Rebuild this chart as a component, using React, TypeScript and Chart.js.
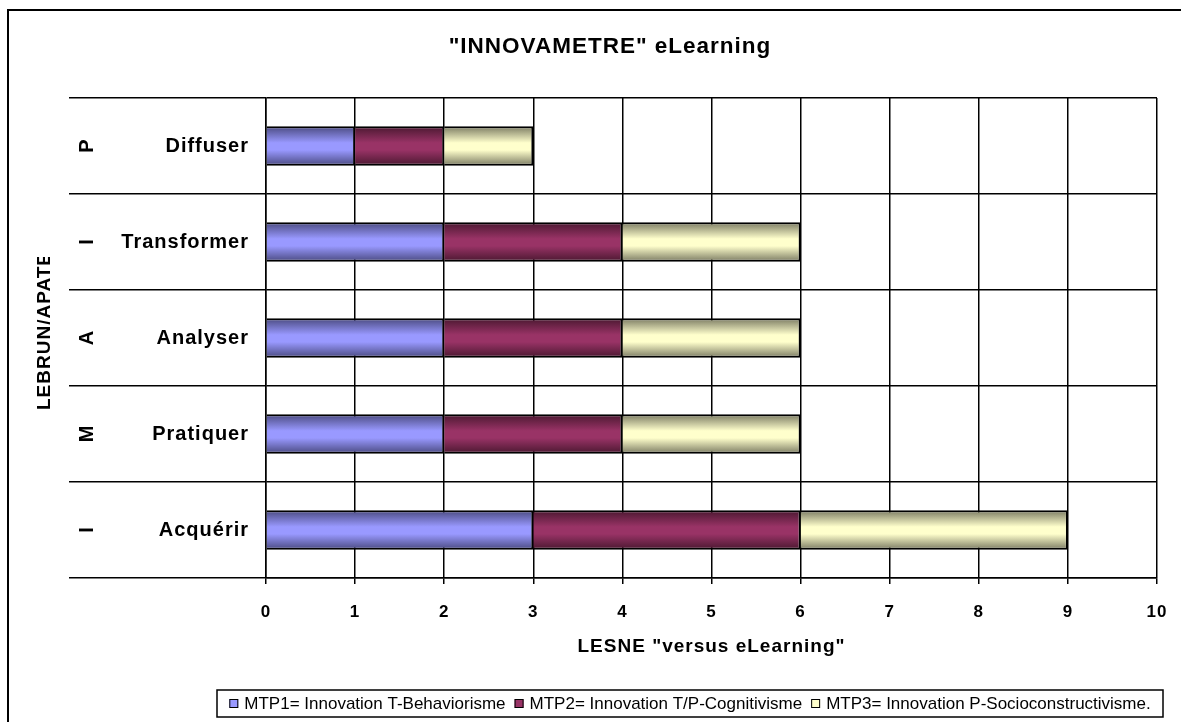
import React, { useEffect, useRef } from 'react';
import { Chart, registerables } from 'chart.js';

Chart.register(...registerables);

// ---- data ----
const categories = ['Diffuser', 'Transformer', 'Analyser', 'Pratiquer', 'Acquérir'];
const groupLetters = ['P', 'I', 'A', 'M', 'I'];
const mtp1Values = [1, 2, 2, 2, 3];
const mtp2Values = [1, 2, 2, 2, 3];
const mtp3Values = [1, 2, 2, 2, 3];
const seriesNames = [
  'MTP1= Innovation T-Behaviorisme',
  'MTP2= Innovation T/P-Cognitivisme',
  'MTP3= Innovation P-Socioconstructivisme.',
];
const xMin = 0;
const xMax = 10;
const xStep = 1;
const chartTitle = '"INNOVAMETRE" eLearning';
const xAxisTitle = 'LESNE "versus eLearning"';
const yAxisTitle = 'LEBRUN/APATE';

// ---- styles ----
const FONT = '"Liberation Sans", Arial, sans-serif';
const BAR_FRACTION = 0.41;
const seriesFlat = ['#9999FF', '#993366', '#FFFFCC'];
const seriesStops: [number, string][][] = [
  [[0, '#4a4a80'], [0.42, '#9999ff'], [0.6, '#9999ff'], [1, '#4a4a80']],
  [[0, '#4a1830'], [0.42, '#993366'], [0.6, '#993366'], [1, '#4a1830']],
  [[0, '#7a7a62'], [0.42, '#ffffcc'], [0.6, '#ffffcc'], [1, '#7a7a62']],
];

function makeBg(i: number) {
  return (c: any) => {
    const chart = c.chart;
    const ys = chart.scales && chart.scales.y;
    if (c.type !== 'data' || !ys || !chart.chartArea) return seriesFlat[i];
    const center = ys.getPixelForValue(c.dataIndex);
    const band = (chart.chartArea.bottom - chart.chartArea.top) / categories.length;
    const half = (band * BAR_FRACTION) / 2;
    const g = chart.ctx.createLinearGradient(0, center - half, 0, center + half);
    seriesStops[i].forEach(([o, col]) => g.addColorStop(o, col));
    return g;
  };
}

const decorPlugin = {
  id: 'decor',
  beforeDraw(chart: any) {
    const ctx = chart.ctx;
    ctx.save();
    ctx.fillStyle = '#ffffff';
    ctx.fillRect(0, 0, chart.width, chart.height);
    ctx.strokeStyle = '#000';
    ctx.lineWidth = 2;
    ctx.strokeRect(8, 10, chart.width + 60, chart.height + 60);
    ctx.restore();
    ctx.letterSpacing = '1px';
  },
  afterDraw(chart: any) {
    const ctx = chart.ctx;
    const ys = chart.scales.y;
    // title
    ctx.save();
    ctx.letterSpacing = '1px';
    ctx.fillStyle = '#000';
    ctx.font = `bold 22.5px ${FONT}`;
    ctx.textAlign = 'center';
    ctx.textBaseline = 'middle';
    ctx.fillText(chartTitle, 610, 47);
    ctx.restore();

    // group letters (rotated)
    ctx.save();
    ctx.letterSpacing = '0px';
    ctx.fillStyle = '#000';
    ctx.font = `bold 20px ${FONT}`;
    ctx.textAlign = 'center';
    ctx.textBaseline = 'middle';
    groupLetters.forEach((l, i) => {
      const y = ys.getPixelForValue(i);
      ctx.save();
      ctx.translate(87, y);
      ctx.rotate(-Math.PI / 2);
      ctx.fillText(l, 0, 0);
      ctx.restore();
    });
    ctx.restore();

    // y axis title (clipped like the original)
    ctx.save();
    ctx.beginPath();
    ctx.rect(0, 257, 80, 300);
    ctx.clip();
    ctx.letterSpacing = '1px';
    ctx.fillStyle = '#000';
    ctx.font = `bold 19px ${FONT}`;
    ctx.textAlign = 'left';
    ctx.textBaseline = 'middle';
    ctx.translate(45, 410);
    ctx.rotate(-Math.PI / 2);
    ctx.fillText(yAxisTitle, 0, 0);
    ctx.restore();

    // legend
    ctx.save();
    ctx.letterSpacing = '0px';
    ctx.font = `17px ${FONT}`;
    const boxL = 217, boxT = 690, boxW = 946, boxH = 27;
    const sq = 9, gapSq = 6, gapItem = 9;
    const labels = chart.data.datasets.map((d: any) => d.label);
    const widths = labels.map((t: string) => ctx.measureText(t).width);
    const total = widths.reduce((a: number, b: number) => a + b, 0) + labels.length * (sq + gapSq) + (labels.length - 1) * gapItem;
    let x = boxL + (boxW - total) / 2;
    const cy = boxT + boxH / 2;
    ctx.strokeStyle = '#000';
    ctx.lineWidth = 1.5;
    ctx.strokeRect(boxL, boxT, boxW, boxH);
    labels.forEach((t: string, i: number) => {
      ctx.fillStyle = seriesFlat[i];
      ctx.fillRect(x, cy - sq / 2, sq, sq);
      ctx.lineWidth = 1;
      ctx.strokeStyle = '#000';
      ctx.strokeRect(x + 0.5, cy - sq / 2 + 0.5, sq - 1, sq - 1);
      x += sq + gapSq;
      ctx.fillStyle = '#000';
      ctx.textAlign = 'left';
      ctx.textBaseline = 'middle';
      ctx.fillText(t, x, cy + 1);
      x += widths[i] + gapItem;
    });
    ctx.restore();
  },
};

export default function App() {
  const ref = useRef<HTMLCanvasElement>(null);
  useEffect(() => {
    const canvas = ref.current;
    if (!canvas) return;
    const datasets = [mtp1Values, mtp2Values, mtp3Values].map((vals, i) => ({
      label: seriesNames[i],
      data: vals,
      backgroundColor: makeBg(i),
      borderColor: '#000',
      borderWidth: 2,
      borderSkipped: 'start' as const,
      barPercentage: BAR_FRACTION,
      categoryPercentage: 1,
    }));
    const chart = new Chart(canvas, {
      type: 'bar',
      data: { labels: categories, datasets },
      options: {
        indexAxis: 'y',
        responsive: false,
        animation: false,
        devicePixelRatio: 1,
        layout: { padding: { top: 98, right: 24, bottom: 64, left: 0 } },
        plugins: {
          legend: { display: false },
          title: { display: false },
          tooltip: { enabled: false },
        },
        scales: {
          x: {
            type: 'linear',
            stacked: true,
            min: xMin,
            max: xMax,
            position: 'bottom',
            ticks: {
              stepSize: xStep,
              color: '#000',
              font: { family: FONT, size: 17, weight: 'bold' },
              padding: 18,
              maxRotation: 0,
            },
            grid: { color: '#000', lineWidth: 1.5, tickLength: 6 },
            border: { color: '#000', width: 1.5 },
            title: {
              display: true,
              text: xAxisTitle,
              color: '#000',
              font: { family: FONT, size: 19, weight: 'bold' },
              padding: { top: 0, bottom: 0 },
            },
            afterFit(scale: any) {
              scale.height = 80;
              scale.paddingLeft = 0;
              scale.paddingRight = 0;
            },
          },
          y: {
            type: 'category',
            stacked: true,
            position: 'left',
            offset: true,
            ticks: {
              color: '#000',
              font: { family: FONT, size: 20, weight: 'bold' },
              padding: -180,
              crossAlign: 'near',
              autoSkip: false,
            },
            grid: { color: '#000', lineWidth: 1.5, tickLength: 197, offset: true },
            border: { color: '#000', width: 1.5 },
            afterFit(scale: any) {
              scale.width = 266;
              scale.paddingTop = 0;
              scale.paddingBottom = 0;
            },
          },
        },
      } as any,
      plugins: [decorPlugin],
    });
    return () => chart.destroy();
  }, []);
  return (
    <div style={{ position: 'absolute', left: 0, top: 0, width: 1181, height: 722, background: '#fff' }}>
      <canvas ref={ref} width={1181} height={722} style={{ display: 'block', width: 1181, height: 722 }} />
    </div>
  );
}
